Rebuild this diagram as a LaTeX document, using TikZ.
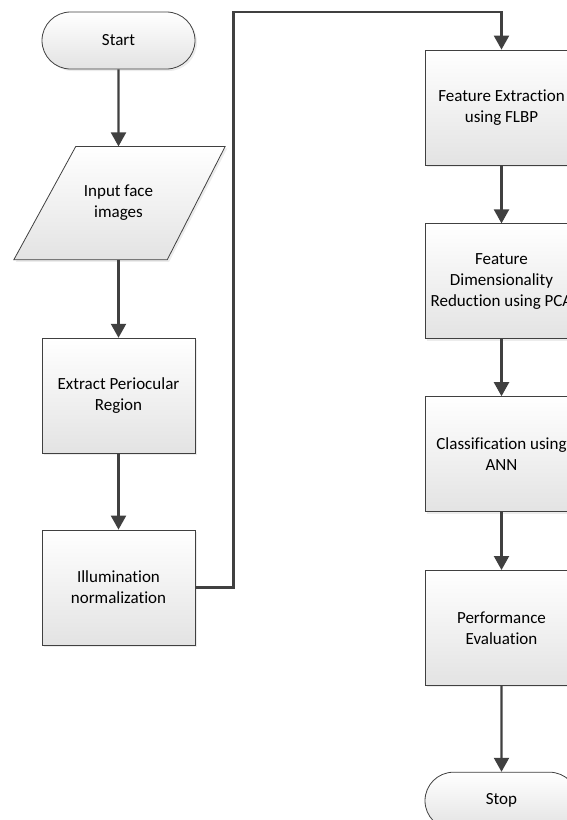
\documentclass[tikz,border=0pt]{standalone}
\usepackage{fontspec}
\setmainfont{Carlito}[Ligatures=CommonOff]
\usetikzlibrary{positioning,arrows.meta,shapes.misc,shadows,backgrounds}
\definecolor{linegray}{HTML}{404040}
\begin{document}
\begin{tikzpicture}
		[x=1pt,y=-1pt,
		every node/.style={align=center,font=\fontsize{17}{21}\selectfont,inner sep=0pt},
		box/.style={draw=linegray,line width=0.8pt,top color=white,bottom color=black!11,
			drop shadow={opacity=0.15,shadow xshift=2pt,shadow yshift=-2pt}},
		process/.style={box,rectangle,minimum width=153pt,minimum height=115pt},
		terminal/.style={box,rounded rectangle,minimum width=153pt,minimum height=57pt},
		io/.style={rectangle,minimum width=153pt,minimum height=113pt},
		flow/.style={draw=linegray,line width=2.2pt,-{Triangle[length=14pt,width=15pt]}},
		node distance=77pt
		]

		\clip (0,0) rectangle (567,820);

		\node[terminal] (start) at (118.5,40.5) {Start};
		\node[io,below=77pt of start] (input) {Input face\\images};
		\node[process,below=78pt of input] (extract) {Extract Periocular\\Region};
		\node[process,below=76pt of extract] (illum) {Illumination\\normalization};

		\node[process] (fe) at (501.5,107.5) {Feature Extraction\\using FLBP};
		\node[process,below=58pt of fe] (pca) {Feature\\Dimensionality\\Reduction using PCA};
		\node[process,below=57pt of pca] (ann) {Classification using\\ANN};
		\node[process,below=58pt of ann] (perf) {Performance\\Evaluation};
		\node[terminal,below=86pt of perf] (stop) {Stop};

		% Parallelogramm hinter dem Text
		\begin{scope}[on background layer]
			\path[box] ([xshift=-28pt]input.south west) -- ([xshift=-28pt]input.south east)
				-- ([xshift=30pt]input.north east) -- ([xshift=34pt]input.north west) -- cycle;
		\end{scope}

		\draw[flow] (start) -- (input);
		\draw[flow] (input) -- (extract);
		\draw[flow] (extract) -- (illum);
		\draw[flow] (illum.east) -- ++(38pt,0) |- ([yshift=38pt]fe.north) -- (fe.north);
		\draw[flow] (fe) -- (pca);
		\draw[flow] (pca) -- (ann);
		\draw[flow] (ann) -- (perf);
		\draw[flow] (perf) -- (stop);
	\end{tikzpicture}
\end{document}
